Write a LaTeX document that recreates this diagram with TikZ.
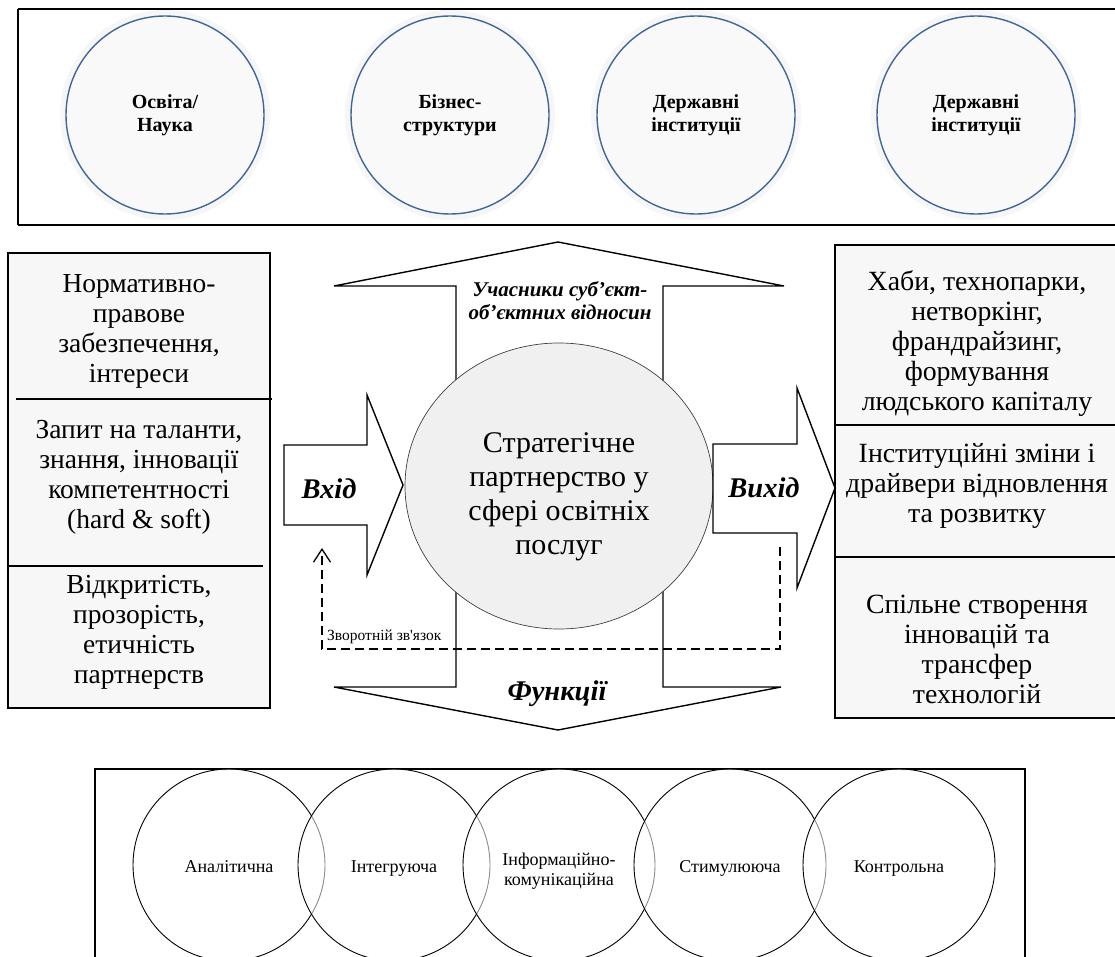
\documentclass[tikz,border=0pt]{standalone}
\usepackage{fontspec}
\setmainfont{Liberation Serif}
\usetikzlibrary{arrows.meta,shapes.geometric}
\definecolor{cblue}{RGB}{65,103,153}
\definecolor{cfill}{RGB}{249,249,249}
\definecolor{chalo}{RGB}{246,246,246}
\definecolor{boxfill}{RGB}{247,247,247}
\definecolor{midfill}{RGB}{240,240,240}
\begin{document}
\begin{tikzpicture}[x=1pt,y=-1pt,
  frame/.style={draw=black,line width=1.7pt},
  divider/.style={draw=black,line width=1.5pt},
  bigarrow/.style={draw=black,fill=white,line width=1.4pt,line join=miter},
  topcirc/.style={circle,draw=cblue,fill=cfill,line width=1.4pt,minimum size=198pt,inner sep=0pt,align=center,font=\bfseries\fontsize{20}{23}\selectfont},
  halo/.style={fill=chalo},
  boxtext/.style={align=center,inner sep=0pt,font=\fontsize{27.5}{30}\selectfont},
  rboxtext/.style={align=center,inner sep=0pt,font=\fontsize{27.8}{30}\selectfont},
  midtext/.style={align=center,inner sep=0pt,font=\fontsize{30}{34}\selectfont},
  arrowlabel/.style={inner sep=0pt,font=\bfseries\itshape\fontsize{28.5}{32}\selectfont},
  smalllabel/.style={align=center,inner sep=0pt,font=\bfseries\itshape\fontsize{21}{23}\selectfont},
  funccirc/.style={circle,draw=black,line width=0.9pt,fill=white,fill opacity=0.55,minimum size=192pt,inner sep=0pt},
  functext/.style={align=center,inner sep=0pt,font=\fontsize{18}{20}\selectfont},
  fb/.style={draw=black,line width=1.3pt,dash pattern=on 9pt off 5pt,-{Straight Barb[length=13pt,width=17pt,line width=1.3pt]}}
]
\useasboundingbox (0,0) rectangle (1115,957);

% ---------- top frame with participants ----------
\draw[frame] (18,9) -- (1125,9);
\draw[frame] (18,225) -- (1125,225);
\draw[frame] (18,9) -- (18,225);
\foreach \cx in {165,450,696,976}{\fill[halo] (\cx,115) circle (105pt);}
\node[topcirc] (p1) at (165,115) {Освіта/\\Наука};
\node[topcirc] (p2) at (450,115) {Бізнес-\\структури};
\node[topcirc] (p3) at (696,115) {Державні\\інституції};
\node[topcirc] (p4) at (976,115) {Державні\\інституції};

% ---------- vertical double arrow ----------
\draw[bigarrow] (558,242) -- (784,286) -- (663,286) -- (663,687) -- (781,687)
  -- (558,730) -- (334,687) -- (456,687) -- (456,286) -- (334,286) -- cycle;
\node[smalllabel] (part) at (560,301) {Учасники суб’єкт-\\об’єктних відносин};
\node[arrowlabel] (func) at (557,694) {Функції};

% ---------- central ellipse ----------
\node[ellipse,draw=black!75,line width=0.7pt,fill=midfill,minimum width=308pt,minimum height=286pt,inner sep=0pt] (core) at (559,486) {};
\node[midtext] (coretext) at (559,497) {Стратегічне\\партнерство у\\сфері освітніх\\послуг};

% ---------- input arrow ----------
\draw[bigarrow] (284,445) -- (367,445) -- (367,395) -- (403,485) -- (367,575)
  -- (367,525) -- (284,525) -- cycle;
\node[arrowlabel] (inp) at (329,489) {Вхід};

% ---------- output arrow ----------
\draw[bigarrow] (713,444) -- (797,444) -- (797,388) -- (835,488) -- (797,588)
  -- (797,533) -- (713,533) -- cycle;
\node[arrowlabel] (outp) at (764,488) {Вихід};

% ---------- left box ----------
\draw[frame,fill=boxfill] (8,253) rectangle (270,708);
\draw[divider] (16,399) -- (272,399);
\draw[divider] (7,566) -- (263,566);
\node[boxtext] (l1) at (139,331) {Нормативно-\\правове\\забезпечення,\\інтереси};
\node[boxtext] (l2) at (139,477) {Запит на таланти,\\знання, інновації\\компетентності\\(hard \& soft)};
\node[boxtext] (l3) at (139,632) {Відкритість,\\прозорість,\\етичність\\партнерств};

% ---------- right box ----------
\draw[frame,fill=boxfill] (1125,245) -- (835,245) -- (835,718) -- (1125,718);
\draw[divider] (835,425) -- (1125,425);
\draw[divider] (835,557) -- (1125,557);
\node[rboxtext] (r1) at (977,344) {Хаби, технопарки,\\нетворкінг,\\франдрайзинг,\\формування\\людського капіталу};
\node[rboxtext] (r2) at (977,486) {Інституційні зміни і\\драйвери відновлення\\та розвитку};
\node[rboxtext] (r3) at (977,649) {Спільне створення\\інновацій та\\трансфер\\технологій};

% ---------- feedback loop ----------
\coordinate (fbstart) at (780,547);
\coordinate (fbcorner) at (780,649);
\coordinate (fbend) at (322,548);
\draw[fb] (fbstart) -- (fbcorner) -| (fbend);
\node[anchor=west,inner sep=0pt,font=\fontsize{15.5}{17}\selectfont] (fbtext) at (327,637) {Зворотній зв\textquotesingle язок};

% ---------- bottom frame with functions ----------
\draw[frame] (95,975) -- (95,769) -- (1025,769) -- (1025,975);
\node[funccirc] (f1) at (229,865) {};
\node[funccirc] (f2) at (394,865) {};
\node[funccirc] (f3) at (559,865) {};
\node[funccirc] (f4) at (730,865) {};
\node[funccirc] (f5) at (899,865) {};
\node[functext,anchor=base] (t1) at (229,872) {Аналітична};
\node[functext,anchor=base] (t2) at (394,872) {Інтегруюча};
\node[functext] (t3) at (559,871) {Інформаційно-\\комунікаційна};
\node[functext,anchor=base] (t4) at (730,872) {Стимулююча};
\node[functext,anchor=base] (t5) at (899,872) {Контрольна};
\end{tikzpicture}
\end{document}
